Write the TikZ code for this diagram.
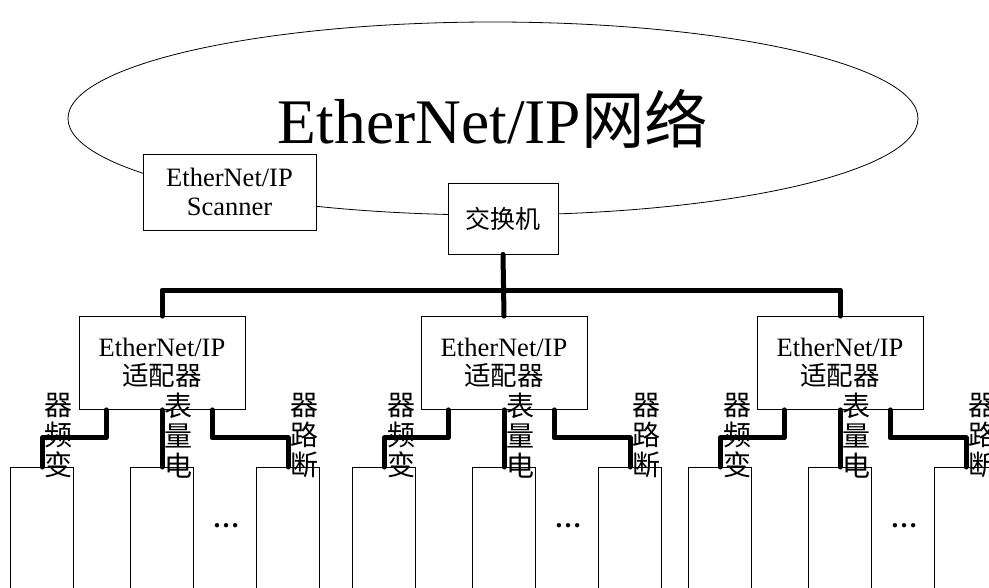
\documentclass[tikz,border=0pt]{standalone}
\usepackage{fontspec}
\setmainfont{Liberation Serif}
\newfontfamily\cjk{Noto Sans CJK SC}
\usetikzlibrary{positioning,shapes.geometric}

\begin{document}
\begin{tikzpicture}[
  x=1pt, y=-1pt,
  frame/.style={draw=black, line width=0.8pt, fill=white, inner sep=0pt},
  boxtext/.style={font=\fontsize{26.5}{29}\selectfont, align=center},
  vlabel/.style={font=\cjk\fontsize{28}{30}\selectfont, align=center, inner sep=0pt, anchor=north},
  cable/.style={line width=5pt, line cap=round, line join=round},
]
\path[use as bounding box] (0,0) rectangle (989,587);
\clip (0,0) rectangle (989,587);

% ---------- network cloud ----------
\node[draw, ellipse, line width=0.8pt, minimum width=850pt, minimum height=193pt, inner sep=0pt,
      font=\fontsize{63.5}{70}\selectfont] (net) at (493,118.5) {EtherNet/IP{\cjk 网络}};
\node[frame, boxtext, minimum width=173pt, minimum height=76pt] (scan) at (229.5,192) {EtherNet/IP\\Scanner};
\node[frame, boxtext, font=\cjk\fontsize{25}{29}\selectfont, minimum width=110pt, minimum height=71pt] (sw) at (503,218.5) {交换机};

% ---------- adapters and field devices ----------
\foreach \g/\cx in {1/162, 2/504, 3/840} {
  \node[frame, boxtext, minimum width=166pt, minimum height=93pt] (ad\g) at (\cx,363) {EtherNet/IP\\{\cjk 适配器}};
  \node[frame, minimum width=63pt, minimum height=140pt, anchor=north] (dv\g a) at (\cx-120,467) {};
  \node[frame, minimum width=63pt, minimum height=140pt, anchor=north] (dv\g b) at (\cx,467) {};
  \node[frame, minimum width=63pt, minimum height=140pt, anchor=north] (dv\g c) at (\cx+126,467) {};
  \node[vlabel] (lb\g a) at (\cx-103,393) {器\\频\\变};
  \node[vlabel] (lb\g b) at (\cx+16,393) {表\\量\\电};
  \node[vlabel] (lb\g c) at (\cx+142,393) {器\\路\\断};
  \node[font=\bfseries\fontsize{27}{29}\selectfont] (dots\g) at (\cx+64,526) {…};
  \draw[cable] ([xshift=-56pt]ad\g.south) -- ++(0,28) -| (dv\g a.north);
  \draw[cable] (ad\g.south) -- (dv\g b.north);
  \draw[cable] ([xshift=50pt]ad\g.south) -- ++(0,28) -| (dv\g c.north);
}

% ---------- backbone ----------
\draw[cable] (ad1.north) -- ++(0,-26) -| (ad3.north);
\draw[cable] (sw.south) -- (ad2.north);
\end{tikzpicture}
\end{document}
